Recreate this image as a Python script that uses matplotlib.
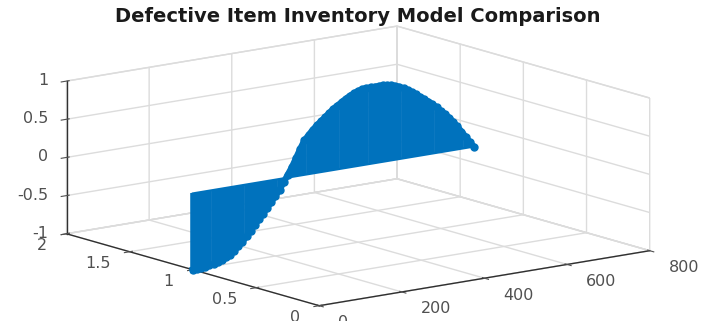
#!/usr/bin/env python3
# -*- coding: utf-8 -*-
import numpy as np
import matplotlib
matplotlib.use("Agg")
import matplotlib.pyplot as plt

# values
x_vals = list(range(0, 690, 10))
z_vals = [-1.00, -1.00, -0.995, -0.99, -0.98, -0.97, -0.955, -0.935, -0.91, -0.885,
          -0.84, -0.79, -0.74, -0.68, -0.615, -0.55, -0.48, -0.42, -0.35, -0.28,
          -0.21, -0.14, -0.05, 0.04, 0.13, 0.24, 0.35, 0.45, 0.51, 0.57,
          0.62, 0.665, 0.71, 0.755, 0.80, 0.835, 0.87, 0.905, 0.935, 0.96,
          0.98, 0.995, 1.00, 1.00, 1.00, 1.00, 1.00, 0.995, 0.985, 0.965,
          0.945, 0.915, 0.885, 0.85, 0.81, 0.77, 0.73, 0.69, 0.645, 0.595,
          0.54, 0.49, 0.435, 0.37, 0.30, 0.225, 0.15, 0.07, 0.0]
y_level = 1

x_ticks = [0, 200, 400, 600, 800]
y_ticks = [0, 0.5, 1, 1.5, 2]
z_ticks = [-1, -0.5, 0, 0.5, 1]
x_labels = ['0', '200', '400', '600', '800']
y_labels = ['0', '0.5', '1', '1.5', '2']
z_labels = ['-1', '-0.5', '0', '0.5', '1']
title = "Defective Item Inventory Model Comparison"

blue = '#0072BD'
dark = '#505050'
grid = '#dcdcdc'

plt.rcParams['grid.color'] = grid
plt.rcParams['grid.linewidth'] = 1.0
plt.rcParams['font.family'] = 'DejaVu Sans'

W, H = 702, 321
fig = plt.figure(figsize=(W / 100, H / 100), dpi=100)
size = 600
ax = fig.add_axes([(350 - size / 2) / W, (H - 174 - size / 2) / H, size / W, size / H],
                  projection='3d', proj_type='ortho')
ax.view_init(elev=12.57, azim=-127.4)
ax.set_box_aspect((1, 1, 0.376), zoom=0.985)
ax.patch.set_alpha(0)

ys = np.full(len(x_vals), y_level)
lines, stems, base = ax.stem(x_vals, ys, z_vals, bottom=0, orientation='z')
stems.set_color(blue)
stems.set_linewidth(4.0)
stems.set_capstyle('butt')
lines.set_color(blue)
lines.set_linestyle('-')
lines.set_linewidth(4.5)
lines.set_markersize(5)
lines.set_markerfacecolor(blue)
lines.set_markeredgecolor(blue)
base.set_color(blue)
base.set_linewidth(1.5)

ax.set_xlim(0, 800)
ax.set_ylim(0, 2)
ax.set_zlim(-1, 1)
ax.set_xticks(x_ticks)
ax.set_yticks(y_ticks)
ax.set_zticks(z_ticks)
ax.set_xticklabels(x_labels, ha='left', va='center')
ax.set_yticklabels(y_labels, ha='right', va='center')
ax.set_zticklabels(z_labels, ha='right', va='center')

for axis in [ax.xaxis, ax.yaxis, ax.zaxis]:
    axis.set_pane_color((1, 1, 1, 1))
    axis.pane.set_edgecolor(grid)
    axis.line.set_color('#303030')
    axis.line.set_linewidth(1.0)
ax.zaxis.set_ticks_position('upper')
ax.zaxis.set_label_position('upper')
ax.tick_params(axis='both', colors=dark, labelsize=11.5)
ax.tick_params(axis='x', pad=9)
ax.tick_params(axis='y', pad=5)
ax.tick_params(axis='z', pad=-1)

fig.text(358 / W, 1 - 16 / H, title, ha='center', va='center', fontsize=14,
         fontweight='bold', family='DejaVu Sans', color='#1a1a1a')

fig.savefig('out.png', dpi=100)
